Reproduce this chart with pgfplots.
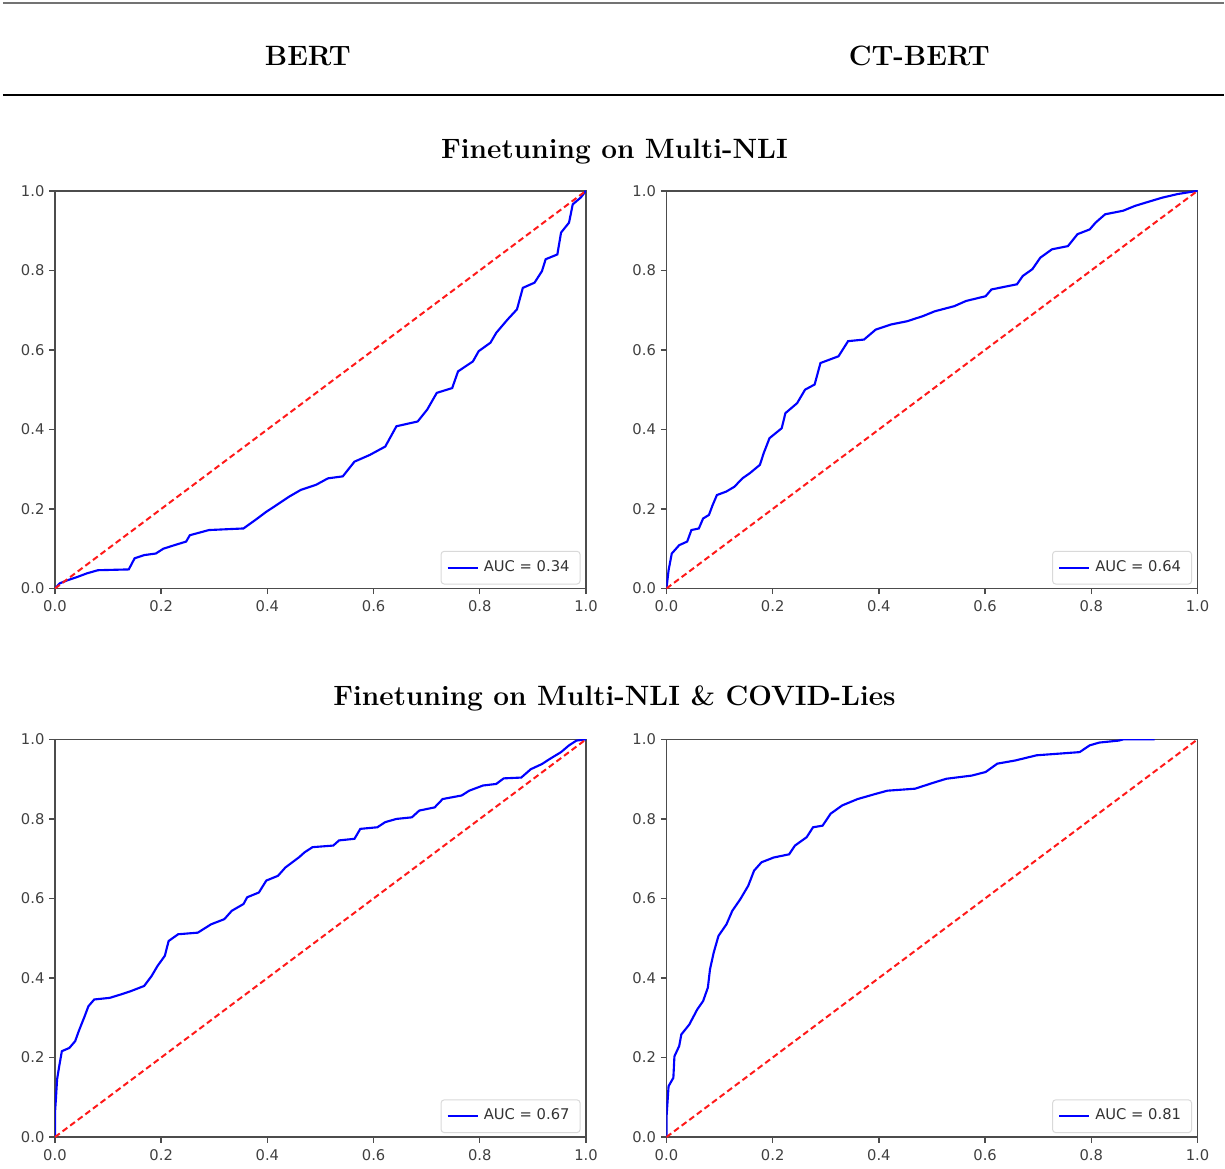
\documentclass[border=0pt]{standalone}
\usepackage{fontspec}
\usepackage{pgfplots}
\pgfplotsset{compat=1.18}
\newfontfamily\dejavu{DejaVu Sans}

\pgfplotstableread{
x y
0 0
0.009 0.013
0.024 0.021
0.042 0.029
0.060 0.038
0.081 0.046
0.139 0.048
0.150 0.076
0.168 0.084
0.190 0.088
0.204 0.100
0.225 0.109
0.247 0.118
0.254 0.134
0.290 0.147
0.355 0.151
0.377 0.172
0.398 0.193
0.413 0.206
0.441 0.231
0.463 0.248
0.492 0.261
0.514 0.277
0.542 0.282
0.564 0.319
0.593 0.336
0.622 0.357
0.643 0.408
0.683 0.420
0.701 0.450
0.719 0.492
0.748 0.504
0.759 0.546
0.787 0.571
0.798 0.597
0.820 0.618
0.831 0.643
0.852 0.676
0.870 0.702
0.881 0.756
0.903 0.769
0.917 0.798
0.924 0.828
0.946 0.840
0.953 0.895
0.968 0.920
0.975 0.966
0.990 0.983
1 1
}\bertmnli

\pgfplotstableread{
x y
0 0
0.004 0.046
0.010 0.088
0.024 0.109
0.039 0.118
0.047 0.147
0.061 0.151
0.069 0.176
0.080 0.185
0.087 0.210
0.095 0.235
0.113 0.244
0.128 0.256
0.143 0.277
0.157 0.290
0.176 0.311
0.183 0.340
0.194 0.378
0.217 0.403
0.224 0.441
0.246 0.466
0.261 0.500
0.279 0.513
0.290 0.567
0.324 0.584
0.342 0.622
0.372 0.626
0.394 0.651
0.423 0.664
0.453 0.672
0.483 0.685
0.505 0.697
0.542 0.710
0.564 0.723
0.601 0.735
0.612 0.752
0.660 0.765
0.671 0.786
0.689 0.803
0.704 0.832
0.726 0.853
0.756 0.861
0.774 0.891
0.797 0.903
0.808 0.920
0.826 0.941
0.860 0.950
0.882 0.962
0.904 0.971
0.934 0.983
0.963 0.992
1 1
}\ctbertmnli

\pgfplotstableread{
x y
0 0
0 0.060
0.002 0.100
0.004 0.145
0.008 0.178
0.013 0.216
0.027 0.224
0.038 0.241
0.045 0.267
0.056 0.304
0.063 0.329
0.074 0.346
0.103 0.350
0.125 0.359
0.143 0.367
0.168 0.380
0.182 0.405
0.193 0.430
0.207 0.456
0.214 0.493
0.232 0.510
0.269 0.514
0.294 0.535
0.319 0.548
0.333 0.569
0.355 0.586
0.362 0.603
0.384 0.615
0.398 0.645
0.420 0.657
0.434 0.678
0.460 0.704
0.470 0.716
0.485 0.729
0.524 0.733
0.535 0.746
0.564 0.750
0.575 0.775
0.607 0.779
0.622 0.792
0.643 0.800
0.672 0.804
0.686 0.821
0.715 0.829
0.730 0.850
0.766 0.859
0.780 0.871
0.806 0.884
0.831 0.888
0.845 0.902
0.878 0.904
0.896 0.925
0.917 0.938
0.932 0.951
0.953 0.968
0.968 0.985
0.982 0.997
1 1
}\bertcovid

\pgfplotstableread{
x y
0 0
0 0.048
0.004 0.128
0.013 0.149
0.015 0.203
0.024 0.229
0.028 0.258
0.043 0.283
0.058 0.321
0.069 0.342
0.078 0.376
0.082 0.422
0.089 0.464
0.098 0.506
0.113 0.535
0.124 0.569
0.139 0.598
0.154 0.632
0.165 0.670
0.179 0.691
0.202 0.703
0.231 0.711
0.242 0.733
0.264 0.754
0.276 0.779
0.294 0.783
0.309 0.813
0.331 0.834
0.360 0.850
0.394 0.863
0.416 0.871
0.468 0.876
0.505 0.892
0.527 0.901
0.575 0.909
0.601 0.918
0.623 0.939
0.657 0.947
0.697 0.960
0.778 0.968
0.797 0.985
0.815 0.992
0.852 0.997
0.860 1.000
0.919 1.000
}\ctbertcovid

\pgfplotsset{rocax/.style={
  scale only axis, width=212.6pt, height=159.2pt,
  xmin=0, xmax=1, ymin=0, ymax=1,
  xtick={0,0.2,0.4,0.6,0.8,1}, ytick={0,0.2,0.4,0.6,0.8,1},
  tick pos=left, tick align=outside, major tick length=2.2pt,
  axis line style={black!70, line width=0.6pt},
  every tick/.style={black!70, line width=0.55pt},
  tick label style={font=\dejavu\fontsize{5.9}{7}\selectfont, text=black!75},
  /pgf/number format/assume math mode=true,
  xticklabel style={yshift=0.8pt, /pgf/number format/fixed, /pgf/number format/fixed zerofill, /pgf/number format/precision=1},
  yticklabel style={xshift=1.5pt, /pgf/number format/fixed, /pgf/number format/fixed zerofill, /pgf/number format/precision=1},
  legend style={at={(1,0)}, anchor=south east, xshift=-2.2pt, yshift=1.6pt,
    draw=black!15, rounded corners=1.2pt, fill=white,
    font=\dejavu\fontsize{5.9}{7}\selectfont, text=black!80,
    inner xsep=2.2pt, inner ysep=1.6pt},
  legend cell align=left,
  legend image code/.code={\draw[blue, line width=0.9pt] (0pt,0pt) -- (12pt,0pt);},
}}
\tikzset{roc/.style={blue, line width=0.85pt}, diag/.style={red!90!white, line width=0.8pt, dash pattern=on 2.4pt off 1.4pt}}

\begin{document}
\begin{tikzpicture}
\path (0,0) rectangle (490pt,466.8pt);
\draw[black!55, line width=0.8pt] (1.2pt,465.6pt) -- (490pt,465.6pt);
\draw[black, line width=0.6pt] (1.2pt,428.8pt) -- (490pt,428.8pt);
\node[anchor=base, font=\fontsize{11.2}{13}\selectfont\bfseries] at (123.2pt,440.4pt) {BERT};
\node[anchor=base, font=\fontsize{11.2}{13}\selectfont\bfseries] at (368pt,440.4pt) {CT-BERT};
\node[anchor=base, font=\fontsize{11.2}{13}\selectfont\bfseries] at (246pt,403.2pt) {Finetuning on Multi-NLI};
\node[anchor=base, font=\fontsize{11.2}{13}\selectfont\bfseries] at (246pt,184.4pt) {Finetuning on Multi-NLI \& COVID-Lies};

\begin{axis}[rocax, at={(22pt,231.2pt)}, anchor=south west]
\addplot[roc] table {\bertmnli};
\addlegendentry{AUC = 0.34}
\addplot[diag, forget plot] coordinates {(0,0) (1,1)};
\end{axis}

\begin{axis}[rocax, at={(266.8pt,231.2pt)}, anchor=south west]
\addplot[roc] table {\ctbertmnli};
\addlegendentry{AUC = 0.64}
\addplot[diag, forget plot] coordinates {(0,0) (1,1)};
\end{axis}

\begin{axis}[rocax, at={(22pt,11.6pt)}, anchor=south west]
\addplot[roc] table {\bertcovid};
\addlegendentry{AUC = 0.67}
\addplot[diag, forget plot] coordinates {(0,0) (1,1)};
\end{axis}

\begin{axis}[rocax, at={(266.8pt,11.6pt)}, anchor=south west]
\addplot[roc] table {\ctbertcovid};
\addlegendentry{AUC = 0.81}
\addplot[diag, forget plot] coordinates {(0,0) (1,1)};
\end{axis}
\end{tikzpicture}
\end{document}
